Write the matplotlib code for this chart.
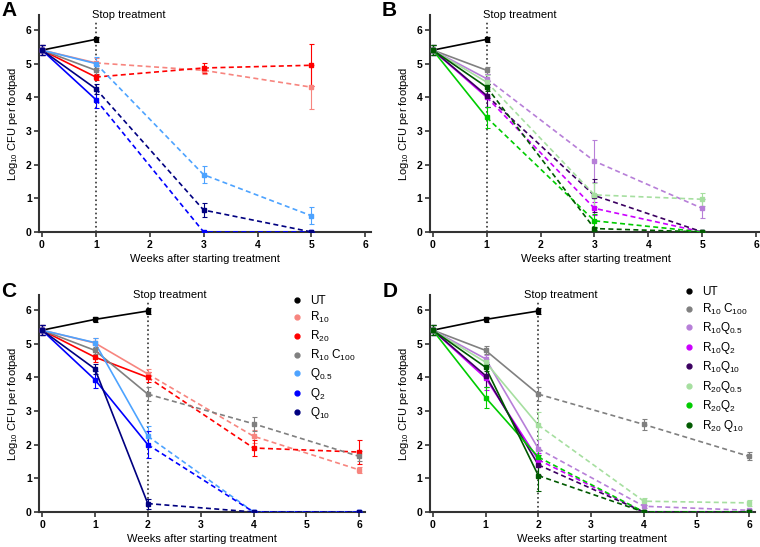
import matplotlib
matplotlib.use("Agg")
import matplotlib.pyplot as plt
from matplotlib.lines import Line2D

plt.rcParams['font.family'] = ['Liberation Sans', 'DejaVu Sans']
plt.rcParams['mathtext.default'] = 'regular'

# semanas
weeks_ab = [0, 1, 3, 5]
weeks_cd = [0, 1, 2, 4, 6]

# cores por grupo
colors = {
    'UT': '#000000',
    'R10': '#F7857F',
    'R20': '#FF0000',
    'R10C100': '#808080',
    'Q0.5': '#4DA3FF',
    'Q2': '#0000FF',
    'Q10': '#000080',
    'R10Q0.5': '#B77FD8',
    'R10Q2': '#CC00FF',
    'R10Q10': '#3B0060',
    'R20Q0.5': '#A6DFA0',
    'R20Q2': '#00CC00',
    'R20Q10': '#005A00',
}

labels = {
    'UT': 'UT',
    'R10': 'R$_{10}$',
    'R20': 'R$_{20}$',
    'R10C100': 'R$_{10}$ C$_{100}$',
    'Q0.5': 'Q$_{0.5}$',
    'Q2': 'Q$_{2}$',
    'Q10': 'Q$_{10}$',
    'R10Q0.5': 'R$_{10}$Q$_{0.5}$',
    'R10Q2': 'R$_{10}$Q$_{2}$',
    'R10Q10': 'R$_{10}$Q$_{10}$',
    'R20Q0.5': 'R$_{20}$Q$_{0.5}$',
    'R20Q2': 'R$_{20}$Q$_{2}$',
    'R20Q10': 'R$_{20}$ Q$_{10}$',
}

# Painel A
a_names = ['UT', 'R10', 'R20', 'R10C100', 'Q0.5', 'Q2', 'Q10']
a_vals = {
    'UT': [5.40, 5.72],
    'R10': [5.40, 5.02, 4.80, 4.30],
    'R20': [5.40, 4.60, 4.87, 4.95],
    'R10C100': [5.40, 4.80],
    'Q0.5': [5.40, 5.00, 1.70, 0.48],
    'Q2': [5.40, 3.93, 0.00, 0.00],
    'Q10': [5.40, 4.25, 0.65, 0.00],
}
a_err = {
    'UT': [0.15, 0.08],
    'R10': [0.15, 0.15, 0.10, 0.65],
    'R20': [0.15, 0.10, 0.15, 0.62],
    'R10C100': [0.15, 0.15],
    'Q0.5': [0.15, 0.20, 0.25, 0.25],
    'Q2': [0.15, 0.25, 0.00, 0.00],
    'Q10': [0.15, 0.15, 0.20, 0.00],
}

# Painel B
b_names = ['UT', 'R10C100', 'R10Q0.5', 'R10Q2', 'R10Q10', 'R20Q0.5', 'R20Q2', 'R20Q10']
b_vals = {
    'UT': [5.40, 5.72],
    'R10C100': [5.40, 4.80],
    'R10Q0.5': [5.40, 4.55, 2.10, 0.70],
    'R10Q2': [5.40, 4.00, 0.70, 0.00],
    'R10Q10': [5.40, 4.05, 1.08, 0.00],
    'R20Q0.5': [5.40, 4.45, 1.10, 0.97],
    'R20Q2': [5.40, 3.40, 0.33, 0.00],
    'R20Q10': [5.40, 4.30, 0.10, 0.00],
}
b_err = {
    'UT': [0.15, 0.08],
    'R10C100': [0.15, 0.10],
    'R10Q0.5': [0.15, 0.15, 0.62, 0.28],
    'R10Q2': [0.15, 0.30, 0.20, 0.00],
    'R10Q10': [0.15, 0.35, 0.50, 0.00],
    'R20Q0.5': [0.15, 0.20, 0.35, 0.20],
    'R20Q2': [0.15, 0.30, 0.20, 0.00],
    'R20Q10': [0.15, 0.10, 0.05, 0.00],
}

# Painel C
c_names = ['UT', 'R10', 'R20', 'R10C100', 'Q0.5', 'Q2', 'Q10']
c_vals = {
    'UT': [5.40, 5.72, 5.97],
    'R10': [5.40, 5.02, 4.10, 2.25, 1.25],
    'R20': [5.40, 4.60, 4.00, 1.90, 1.78],
    'R10C100': [5.40, 4.80, 3.50, 2.62, 1.65],
    'Q0.5': [5.40, 5.03, 2.25, 0.00, 0.00],
    'Q2': [5.40, 3.93, 2.00, 0.00, 0.00],
    'Q10': [5.40, 4.25, 0.25, 0.00, 0.00],
}
c_err = {
    'UT': [0.15, 0.08, 0.08],
    'R10': [0.15, 0.15, 0.15, 0.20, 0.10],
    'R20': [0.15, 0.15, 0.15, 0.25, 0.35],
    'R10C100': [0.15, 0.10, 0.20, 0.20, 0.15],
    'Q0.5': [0.15, 0.15, 0.30, 0.00, 0.00],
    'Q2': [0.15, 0.25, 0.40, 0.00, 0.00],
    'Q10': [0.15, 0.15, 0.15, 0.00, 0.00],
}

# Painel D
d_names = ['UT', 'R10C100', 'R10Q0.5', 'R10Q2', 'R10Q10', 'R20Q0.5', 'R20Q2', 'R20Q10']
d_vals = {
    'UT': [5.40, 5.72, 5.97],
    'R10C100': [5.40, 4.80, 3.50, 2.60, 1.65],
    'R10Q0.5': [5.40, 4.55, 1.88, 0.17, 0.05],
    'R10Q2': [5.40, 3.98, 1.55, 0.00, 0.00],
    'R10Q10': [5.40, 4.05, 1.40, 0.00, 0.00],
    'R20Q0.5': [5.40, 4.45, 2.58, 0.32, 0.27],
    'R20Q2': [5.40, 3.40, 1.63, 0.00, 0.00],
    'R20Q10': [5.40, 4.30, 1.08, 0.00, 0.00],
}
d_err = {
    'UT': [0.15, 0.08, 0.08],
    'R10C100': [0.15, 0.12, 0.20, 0.15, 0.12],
    'R10Q0.5': [0.15, 0.10, 0.30, 0.05, 0.05],
    'R10Q2': [0.15, 0.35, 0.20, 0.00, 0.00],
    'R10Q10': [0.15, 0.35, 0.30, 0.00, 0.00],
    'R20Q0.5': [0.15, 0.10, 0.40, 0.10, 0.10],
    'R20Q2': [0.15, 0.30, 0.20, 0.00, 0.00],
    'R20Q10': [0.15, 0.10, 0.45, 0.00, 0.00],
}


def draw_panel(ax, weeks, names, vals, errs, stop_idx, text_dx, legend_pos=None):
    ymax = 6.45
    stop_week = weeks[stop_idx]
    ax.plot([stop_week, stop_week], [0, ymax], color='#333333', ls=':', lw=1.2, zorder=1)
    for n in names:
        v = vals[n]
        e = errs[n]
        x = weeks[:len(v)]
        c = colors[n]
        k = min(stop_idx + 1, len(v))
        ax.plot(x[:k], v[:k], color=c, lw=1.2, zorder=3)
        if len(v) > k:
            ax.plot(x[k - 1:], v[k - 1:], color=c, lw=1.2, ls=(0, (3, 2)), zorder=3)
        ax.errorbar(x, v, yerr=e, fmt='s', ms=3.5, color=c, ecolor=c,
                    elinewidth=0.8, capsize=1.8, capthick=0.8, zorder=4)
    ax.set_xlim(-0.05, 6.1)
    ax.set_ylim(0, ymax)
    ax.set_xticks(range(7))
    ax.set_yticks(range(7))
    ax.spines['top'].set_visible(False)
    ax.spines['right'].set_visible(False)
    for s in ['left', 'bottom']:
        ax.spines[s].set_linewidth(1.5)
        ax.spines[s].set_color('#333333')
    ax.tick_params(width=1.2, length=3.5, labelsize=7.5, pad=2, color='#333333')
    for lab in ax.get_xticklabels() + ax.get_yticklabels():
        lab.set_fontweight('bold')
    ax.set_xlabel('Weeks after starting treatment', fontsize=8, labelpad=3)
    ax.set_ylabel('Log$_{10}$ CFU per footpad', fontsize=8, labelpad=4)
    ax.text(stop_week + text_dx, ymax, 'Stop treatment', fontsize=8,
            ha='left', va='center', zorder=5,
            bbox=dict(facecolor='white', edgecolor='none', pad=0.5))
    if legend_pos is not None:
        handles = [Line2D([], [], ls='none', marker='o', ms=3.5, color=colors[n]) for n in names]
        ax.legend(handles, [labels[n] for n in names], loc='upper left',
                  bbox_to_anchor=legend_pos, frameon=False, fontsize=8.5,
                  handlelength=1.0, handletextpad=0.6, labelspacing=0.3,
                  borderaxespad=0, borderpad=0)


fig = plt.figure(figsize=(7.6, 5.47), dpi=100)
ax_a = fig.add_axes([0.0517, 0.576, 0.436, 0.397])
ax_b = fig.add_axes([0.566, 0.576, 0.436, 0.397])
ax_c = fig.add_axes([0.0518, 0.064, 0.428, 0.397])
ax_d = fig.add_axes([0.566, 0.064, 0.427, 0.397])

draw_panel(ax_a, weeks_ab, a_names, a_vals, a_err, 1, -0.07)
draw_panel(ax_b, weeks_ab, b_names, b_vals, b_err, 1, -0.07)
draw_panel(ax_c, weeks_cd, c_names, c_vals, c_err, 2, -0.28, legend_pos=(0.775, 1.0))
draw_panel(ax_d, weeks_cd, d_names, d_vals, d_err, 2, -0.27, legend_pos=(0.78, 1.04))

# letras dos paineis
for lx, ly, letter in [(0.002, 0.98, 'A'), (0.502, 0.98, 'B'),
                       (0.002, 0.468, 'C'), (0.504, 0.468, 'D')]:
    fig.text(lx, ly, letter, fontsize=15, fontweight='bold', ha='left', va='center')

plt.savefig('out.png', dpi=100)
